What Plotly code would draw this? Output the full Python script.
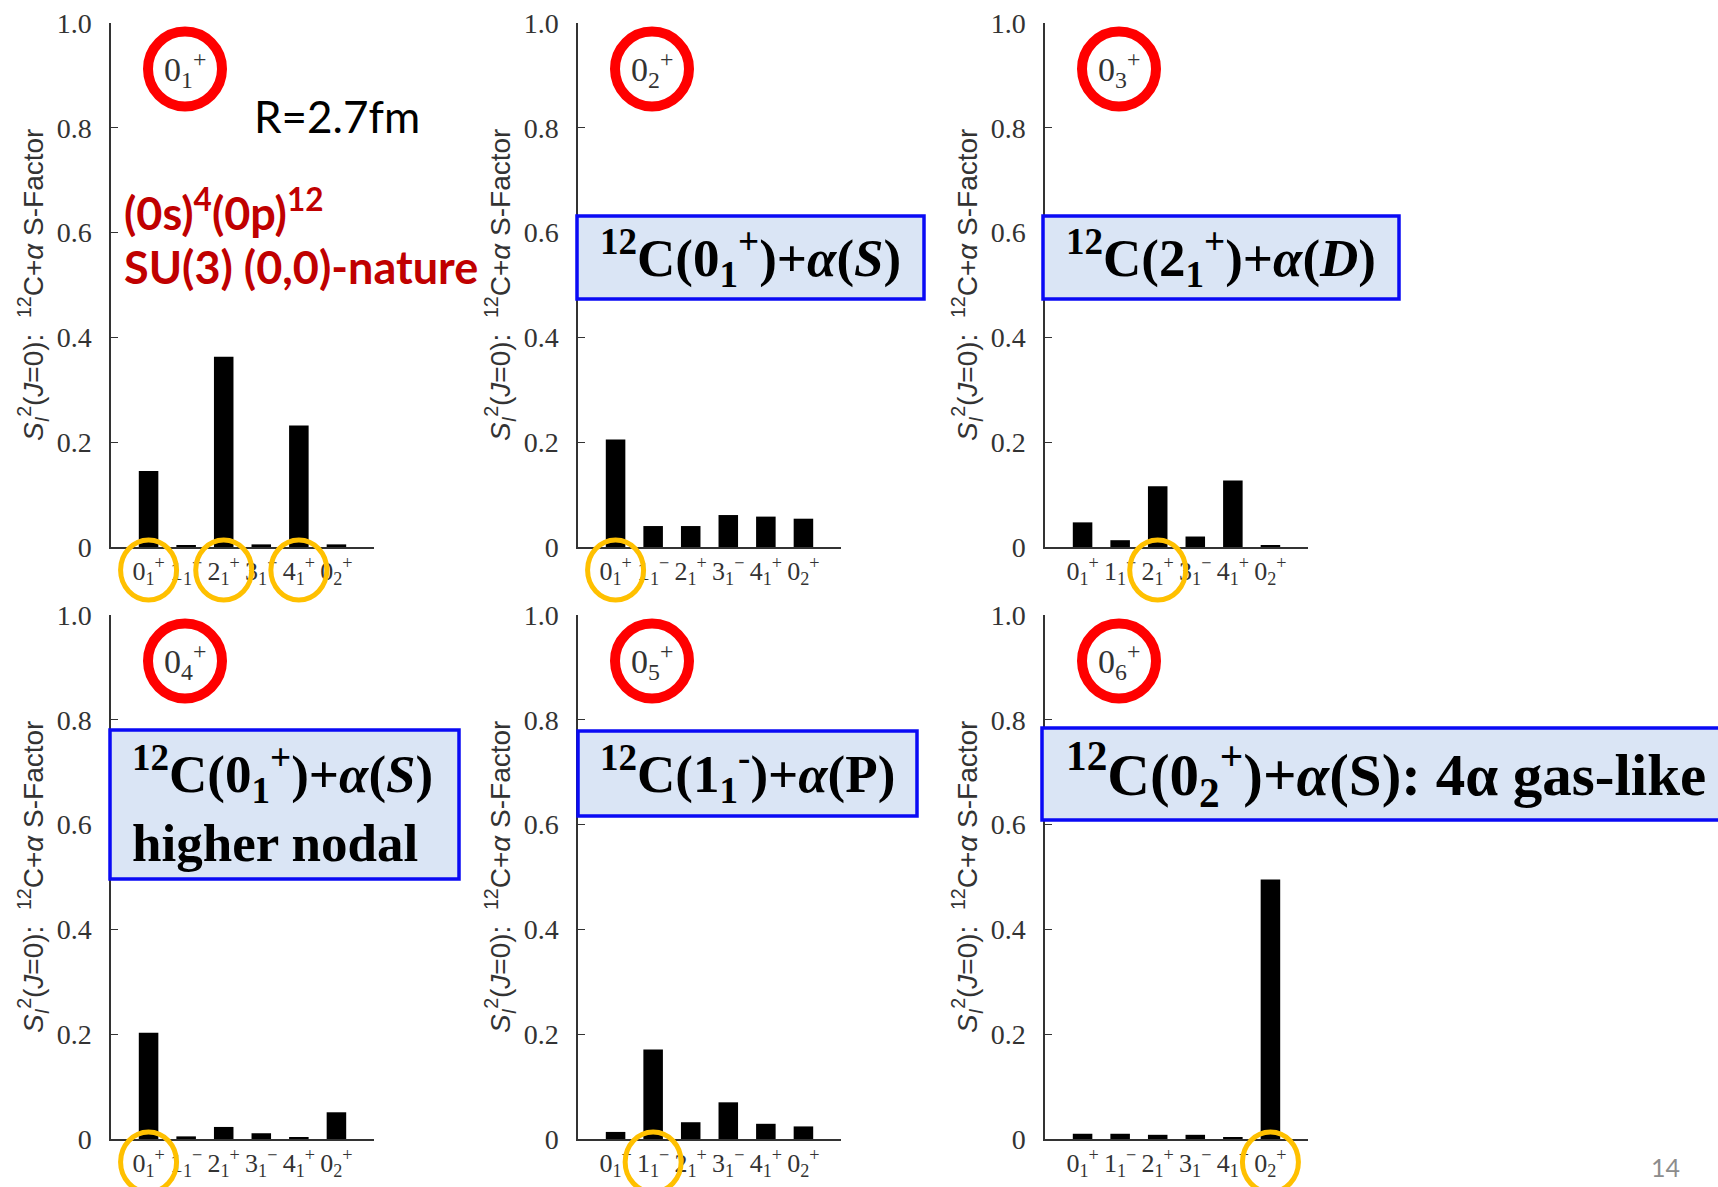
import plotly.graph_objects as go

W, H = 1718, 1187

# ---------------- data ----------------
states = ["0<sub>1</sub><sup>+</sup>", "1<sub>1</sub><sup>−</sup>", "2<sub>1</sub><sup>+</sup>",
          "3<sub>1</sub><sup>−</sup>", "4<sub>1</sub><sup>+</sup>", "0<sub>2</sub><sup>+</sup>"]
panel_labels = ["0<sub>1</sub><sup>+</sup>", "0<sub>2</sub><sup>+</sup>", "0<sub>3</sub><sup>+</sup>",
                "0<sub>4</sub><sup>+</sup>", "0<sub>5</sub><sup>+</sup>", "0<sub>6</sub><sup>+</sup>"]
s_0p1 = [0.145, 0.002, 0.363, 0.005, 0.232, 0.005]
s_0p2 = [0.205, 0.040, 0.040, 0.061, 0.058, 0.054]
s_0p3 = [0.047, 0.013, 0.116, 0.020, 0.127, 0.003]
s_0p4 = [0.203, 0.005, 0.023, 0.011, 0.003, 0.051]
s_0p5 = [0.0135, 0.171, 0.032, 0.070, 0.029, 0.024]
s_0p6 = [0.010, 0.010, 0.008, 0.008, 0.002, 0.495]
series = [s_0p1, s_0p2, s_0p3, s_0p4, s_0p5, s_0p6]
highlighted = [[0, 2, 4], [0], [2], [0], [1], [5]]
box_texts = [
    None,
    "<b><sup>12</sup>C(0<sub>1</sub><sup>+</sup>)+<i>α</i>(<i>S</i>)</b>",
    "<b><sup>12</sup>C(2<sub>1</sub><sup>+</sup>)+<i>α</i>(<i>D</i>)</b>",
    "<b><sup>12</sup>C(0<sub>1</sub><sup>+</sup>)+<i>α</i>(<i>S</i>)<br>higher nodal</b>",
    "<b><sup>12</sup>C(1<sub>1</sub><sup>-</sup>)+<i>α</i>(P)</b>",
    "<b><sup>12</sup>C(0<sub>2</sub><sup>+</sup>)+<i>α</i>(S): 4α gas-like</b>",
]
yticks = [0, 0.2, 0.4, 0.6, 0.8, 1.0]
yticktext = ["0", "0.2", "0.4", "0.6", "0.8", "1.0"]
ytitle = "<i>S</i><sub><i>I</i></sub><sup>2</sup>(<i>J</i>=0):  <sup>12</sup>C+<i>α</i> S-Factor"

# ---------------- layout geometry (pixels) ----------------
col_left = [111, 578, 1045]
plot_w = 263
row_top = [23, 615]
plot_h = 524
box_px = [None, (577, 924, 216, 299), (1043, 1399, 216, 299), (110, 459, 730, 879),
          (578, 917, 731, 816), (1042, 1730, 728, 820)]
box_font = [None, 53, 53, 53, 53, 59]

def px(x):
    return x / W

def py(y):
    return 1 - y / H

fig = go.Figure()
shapes = []
annotations = []
serif = "Liberation Serif"

for i, vals in enumerate(series):
    r, c = divmod(i, 3)
    left = col_left[c]
    top = row_top[r]
    n = i + 1
    xname = "x" if n == 1 else f"x{n}"
    yname = "y" if n == 1 else f"y{n}"
    fig.add_trace(go.Bar(x=states, y=vals, marker=dict(color="black", line=dict(width=0)),
                         width=0.52, xaxis=xname, yaxis=yname, showlegend=False))
    xa = dict(domain=[px(left), px(left + plot_w)], range=[-1, 6], anchor=yname,
              showline=True, linecolor="#333", linewidth=1.5, ticks="", showgrid=False,
              zeroline=False, tickfont=dict(family=serif, size=26, color="#333"),
              tickangle=0, type="category", automargin=False)
    ya = dict(domain=[py(top + plot_h), py(top)], range=[0, 1], anchor=xname,
              showline=True, linecolor="#333", linewidth=1.5, ticks="inside", ticklen=7,
              tickcolor="#333", tickwidth=1.2, tickvals=yticks, ticktext=yticktext,
              showgrid=False, zeroline=False, ticklabelstandoff=12, automargin=False,
              tickfont=dict(family=serif, size=28, color="#333"))
    fig.layout[("xaxis" if n == 1 else f"xaxis{n}")] = xa
    fig.layout[("yaxis" if n == 1 else f"yaxis{n}")] = ya

    unit = plot_w / 7.0
    zero_px = top + plot_h
    # y-axis title
    annotations.append(dict(x=px(left - 78), y=py(top + plot_h / 2), xref="paper", yref="paper",
                            text=ytitle, textangle=-90, showarrow=False,
                            font=dict(family="Liberation Sans", size=28, color="#333"),
                            xanchor="center", yanchor="middle"))
    # red circle with state label
    cx, cy = left + 74, top + 46
    shapes.append(dict(type="circle", xref="paper", yref="paper",
                       x0=px(cx - 37), x1=px(cx + 37), y0=py(cy + 37.5), y1=py(cy - 37.5),
                       line=dict(color="#FF0000", width=10)))
    annotations.append(dict(x=px(cx), y=py(cy), xref="paper", yref="paper", text=panel_labels[i],
                            showarrow=False, font=dict(family=serif, size=34, color="#333"),
                            xanchor="center", yanchor="middle"))
    # orange highlight circles on tick labels
    for k in highlighted[i]:
        ox = left + (k + 1) * unit
        oy = zero_px + 23
        shapes.append(dict(type="circle", xref="paper", yref="paper",
                           x0=px(ox - 28), x1=px(ox + 28), y0=py(oy + 30), y1=py(oy - 30),
                           line=dict(color="#FFC000", width=5)))
    # blue boxes
    if box_texts[i]:
        x0, x1, y0, y1 = box_px[i]
        shapes.append(dict(type="rect", xref="paper", yref="paper",
                           x0=px(x0), x1=px(x1), y0=py(y1), y1=py(y0),
                           fillcolor="#dae5f5", line=dict(color="#0a0af5", width=3.5)))
        if i == 3:
            annotations.append(dict(x=px(130), y=py((y0 + y1) / 2), xref="paper", yref="paper",
                                    text=box_texts[i], showarrow=False, align="left",
                                    xanchor="left", yanchor="middle",
                                    font=dict(family=serif, size=box_font[i], color="black")))
        elif i == 5:
            annotations.append(dict(x=px(1064), y=py((y0 + y1) / 2), xref="paper", yref="paper",
                                    text=box_texts[i], showarrow=False,
                                    xanchor="left", yanchor="middle",
                                    font=dict(family=serif, size=box_font[i], color="black")))
        else:
            annotations.append(dict(x=px((x0 + x1) / 2), y=py((y0 + y1) / 2), xref="paper",
                                    yref="paper", text=box_texts[i], showarrow=False,
                                    xanchor="center", yanchor="middle",
                                    font=dict(family=serif, size=box_font[i], color="black")))

# extra text
annotations.append(dict(x=px(252), y=py(116), xref="paper", yref="paper", text="R=2.7fm",
                        showarrow=False, xanchor="left", yanchor="middle",
                        font=dict(family="Lato", size=44, color="black")))
annotations.append(dict(x=px(122), y=py(210), xref="paper", yref="paper",
                        text="<b>(0s)<sup>4</sup>(0p)<sup>12</sup></b>",
                        showarrow=False, xanchor="left", yanchor="middle",
                        font=dict(family="Lato", size=45, color="#C00000")))
annotations.append(dict(x=px(122), y=py(267), xref="paper", yref="paper",
                        text="<b>SU(3) (0,0)-nature</b>",
                        showarrow=False, xanchor="left", yanchor="middle",
                        font=dict(family="Lato", size=45, color="#C00000")))
annotations.append(dict(x=px(1665), y=py(1167), xref="paper", yref="paper", text="14",
                        showarrow=False, xanchor="center", yanchor="middle",
                        font=dict(family="Lato", size=25, color="#8c8c8c")))

fig.update_layout(template="none", width=W, height=H, margin=dict(l=0, r=0, t=0, b=0, pad=0),
                  paper_bgcolor="white", plot_bgcolor="white", bargap=0.45,
                  shapes=shapes, annotations=annotations)

fig.write_html("out.html")
